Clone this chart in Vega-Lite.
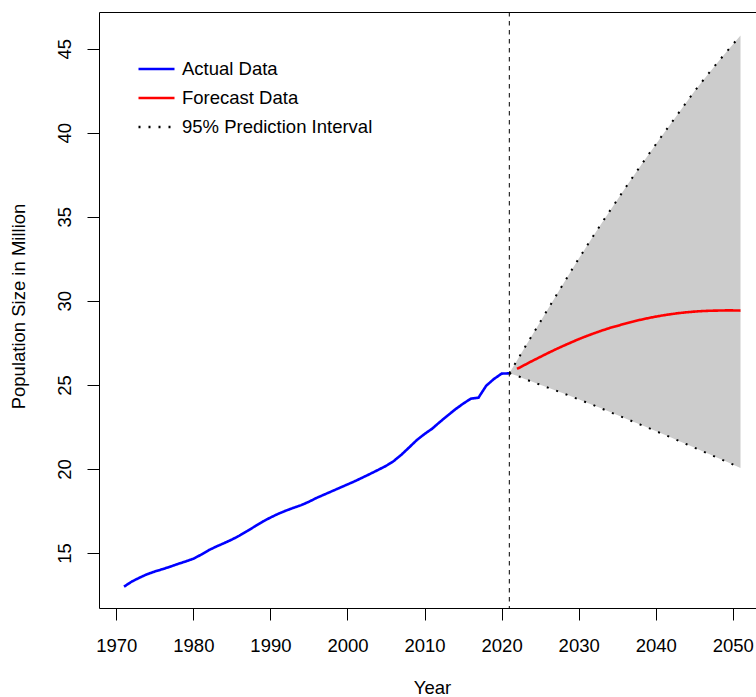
{
  "$schema": "https://vega.github.io/schema/vega-lite/v6.json",
  "width": 660,
  "height": 596,
  "autosize": {"type": "none"},
  "padding": {"left": 99, "top": 12, "right": -3, "bottom": 89},
  "background": "white",
  "config": {
    "font": "Liberation Sans",
    "view": {"stroke": "black", "strokeWidth": 1},
    "axis": {"grid": false, "domain": false, "tickColor": "black", "tickSize": 12, "tickWidth": 1, "labelColor": "black", "titleColor": "black", "labelFont": "Liberation Sans", "titleFont": "Liberation Sans", "labelFontSize": 18.5, "titleFontSize": 18.5, "titleFontWeight": "normal"},
    "legend": {"labelFont": "Liberation Sans", "labelFontSize": 18.5, "labelColor": "black", "labelLimit": 0}
  },
  "datasets": {
    "lines": [
      {"year": 1971, "value": 13.00, "series": "Actual Data", "part": "actual"},
      {"year": 1972, "value": 13.30, "series": "Actual Data", "part": "actual"},
      {"year": 1973, "value": 13.53, "series": "Actual Data", "part": "actual"},
      {"year": 1974, "value": 13.74, "series": "Actual Data", "part": "actual"},
      {"year": 1975, "value": 13.90, "series": "Actual Data", "part": "actual"},
      {"year": 1976, "value": 14.04, "series": "Actual Data", "part": "actual"},
      {"year": 1977, "value": 14.19, "series": "Actual Data", "part": "actual"},
      {"year": 1978, "value": 14.35, "series": "Actual Data", "part": "actual"},
      {"year": 1979, "value": 14.50, "series": "Actual Data", "part": "actual"},
      {"year": 1980, "value": 14.66, "series": "Actual Data", "part": "actual"},
      {"year": 1981, "value": 14.90, "series": "Actual Data", "part": "actual"},
      {"year": 1982, "value": 15.17, "series": "Actual Data", "part": "actual"},
      {"year": 1983, "value": 15.39, "series": "Actual Data", "part": "actual"},
      {"year": 1984, "value": 15.59, "series": "Actual Data", "part": "actual"},
      {"year": 1985, "value": 15.80, "series": "Actual Data", "part": "actual"},
      {"year": 1986, "value": 16.04, "series": "Actual Data", "part": "actual"},
      {"year": 1987, "value": 16.31, "series": "Actual Data", "part": "actual"},
      {"year": 1988, "value": 16.59, "series": "Actual Data", "part": "actual"},
      {"year": 1989, "value": 16.87, "series": "Actual Data", "part": "actual"},
      {"year": 1990, "value": 17.11, "series": "Actual Data", "part": "actual"},
      {"year": 1991, "value": 17.33, "series": "Actual Data", "part": "actual"},
      {"year": 1992, "value": 17.52, "series": "Actual Data", "part": "actual"},
      {"year": 1993, "value": 17.69, "series": "Actual Data", "part": "actual"},
      {"year": 1994, "value": 17.85, "series": "Actual Data", "part": "actual"},
      {"year": 1995, "value": 18.05, "series": "Actual Data", "part": "actual"},
      {"year": 1996, "value": 18.28, "series": "Actual Data", "part": "actual"},
      {"year": 1997, "value": 18.48, "series": "Actual Data", "part": "actual"},
      {"year": 1998, "value": 18.68, "series": "Actual Data", "part": "actual"},
      {"year": 1999, "value": 18.88, "series": "Actual Data", "part": "actual"},
      {"year": 2000, "value": 19.08, "series": "Actual Data", "part": "actual"},
      {"year": 2001, "value": 19.28, "series": "Actual Data", "part": "actual"},
      {"year": 2002, "value": 19.50, "series": "Actual Data", "part": "actual"},
      {"year": 2003, "value": 19.72, "series": "Actual Data", "part": "actual"},
      {"year": 2004, "value": 19.95, "series": "Actual Data", "part": "actual"},
      {"year": 2005, "value": 20.18, "series": "Actual Data", "part": "actual"},
      {"year": 2006, "value": 20.47, "series": "Actual Data", "part": "actual"},
      {"year": 2007, "value": 20.85, "series": "Actual Data", "part": "actual"},
      {"year": 2008, "value": 21.28, "series": "Actual Data", "part": "actual"},
      {"year": 2009, "value": 21.72, "series": "Actual Data", "part": "actual"},
      {"year": 2010, "value": 22.08, "series": "Actual Data", "part": "actual"},
      {"year": 2011, "value": 22.40, "series": "Actual Data", "part": "actual"},
      {"year": 2012, "value": 22.80, "series": "Actual Data", "part": "actual"},
      {"year": 2013, "value": 23.18, "series": "Actual Data", "part": "actual"},
      {"year": 2014, "value": 23.55, "series": "Actual Data", "part": "actual"},
      {"year": 2015, "value": 23.88, "series": "Actual Data", "part": "actual"},
      {"year": 2016, "value": 24.18, "series": "Actual Data", "part": "actual"},
      {"year": 2017, "value": 24.24, "series": "Actual Data", "part": "actual"},
      {"year": 2018, "value": 24.95, "series": "Actual Data", "part": "actual"},
      {"year": 2019, "value": 25.35, "series": "Actual Data", "part": "actual"},
      {"year": 2020, "value": 25.67, "series": "Actual Data", "part": "actual"},
      {"year": 2021, "value": 25.69, "series": "Actual Data", "part": "actual"},
      {"year": 2022, "value": 25.95, "series": "Forecast Data", "part": "mean"},
      {"year": 2023, "value": 26.19, "series": "Forecast Data", "part": "mean"},
      {"year": 2024, "value": 26.43, "series": "Forecast Data", "part": "mean"},
      {"year": 2025, "value": 26.66, "series": "Forecast Data", "part": "mean"},
      {"year": 2026, "value": 26.89, "series": "Forecast Data", "part": "mean"},
      {"year": 2027, "value": 27.11, "series": "Forecast Data", "part": "mean"},
      {"year": 2028, "value": 27.32, "series": "Forecast Data", "part": "mean"},
      {"year": 2029, "value": 27.52, "series": "Forecast Data", "part": "mean"},
      {"year": 2030, "value": 27.72, "series": "Forecast Data", "part": "mean"},
      {"year": 2031, "value": 27.90, "series": "Forecast Data", "part": "mean"},
      {"year": 2032, "value": 28.07, "series": "Forecast Data", "part": "mean"},
      {"year": 2033, "value": 28.23, "series": "Forecast Data", "part": "mean"},
      {"year": 2034, "value": 28.38, "series": "Forecast Data", "part": "mean"},
      {"year": 2035, "value": 28.51, "series": "Forecast Data", "part": "mean"},
      {"year": 2036, "value": 28.64, "series": "Forecast Data", "part": "mean"},
      {"year": 2037, "value": 28.76, "series": "Forecast Data", "part": "mean"},
      {"year": 2038, "value": 28.87, "series": "Forecast Data", "part": "mean"},
      {"year": 2039, "value": 28.97, "series": "Forecast Data", "part": "mean"},
      {"year": 2040, "value": 29.06, "series": "Forecast Data", "part": "mean"},
      {"year": 2041, "value": 29.14, "series": "Forecast Data", "part": "mean"},
      {"year": 2042, "value": 29.21, "series": "Forecast Data", "part": "mean"},
      {"year": 2043, "value": 29.27, "series": "Forecast Data", "part": "mean"},
      {"year": 2044, "value": 29.32, "series": "Forecast Data", "part": "mean"},
      {"year": 2045, "value": 29.36, "series": "Forecast Data", "part": "mean"},
      {"year": 2046, "value": 29.39, "series": "Forecast Data", "part": "mean"},
      {"year": 2047, "value": 29.41, "series": "Forecast Data", "part": "mean"},
      {"year": 2048, "value": 29.42, "series": "Forecast Data", "part": "mean"},
      {"year": 2049, "value": 29.43, "series": "Forecast Data", "part": "mean"},
      {"year": 2050, "value": 29.43, "series": "Forecast Data", "part": "mean"},
      {"year": 2051, "value": 29.42, "series": "Forecast Data", "part": "mean"}
    ],
    "band": [
      {"year": 2021, "lower": 25.69, "upper": 25.69},
      {"year": 2022, "lower": 25.55, "upper": 26.45},
      {"year": 2023, "lower": 25.35, "upper": 27.22},
      {"year": 2024, "lower": 25.18, "upper": 27.98},
      {"year": 2025, "lower": 25.01, "upper": 28.74},
      {"year": 2026, "lower": 24.84, "upper": 29.50},
      {"year": 2027, "lower": 24.67, "upper": 30.26},
      {"year": 2028, "lower": 24.50, "upper": 31.01},
      {"year": 2029, "lower": 24.32, "upper": 31.76},
      {"year": 2030, "lower": 24.14, "upper": 32.50},
      {"year": 2031, "lower": 23.96, "upper": 33.22},
      {"year": 2032, "lower": 23.78, "upper": 33.93},
      {"year": 2033, "lower": 23.59, "upper": 34.63},
      {"year": 2034, "lower": 23.40, "upper": 35.32},
      {"year": 2035, "lower": 23.21, "upper": 36.00},
      {"year": 2036, "lower": 23.02, "upper": 36.68},
      {"year": 2037, "lower": 22.83, "upper": 37.35},
      {"year": 2038, "lower": 22.64, "upper": 38.01},
      {"year": 2039, "lower": 22.45, "upper": 38.66},
      {"year": 2040, "lower": 22.26, "upper": 39.30},
      {"year": 2041, "lower": 22.06, "upper": 39.94},
      {"year": 2042, "lower": 21.87, "upper": 40.57},
      {"year": 2043, "lower": 21.67, "upper": 41.19},
      {"year": 2044, "lower": 21.47, "upper": 41.82},
      {"year": 2045, "lower": 21.27, "upper": 42.45},
      {"year": 2046, "lower": 21.07, "upper": 43.03},
      {"year": 2047, "lower": 20.87, "upper": 43.60},
      {"year": 2048, "lower": 20.67, "upper": 44.16},
      {"year": 2049, "lower": 20.47, "upper": 44.71},
      {"year": 2050, "lower": 20.27, "upper": 45.25},
      {"year": 2051, "lower": 20.06, "upper": 45.78}
    ],
    "origin": [
      {"year": 2021}
    ]
  },
  "layer": [
    {
      "data": {"name": "band"},
      "mark": {"type": "area", "color": "#CCCCCC", "opacity": 1},
      "encoding": {
        "x": {"field": "year", "type": "quantitative", "scale": {"domain": [1967.755, 2053.4], "nice": false, "zero": false},
          "axis": {"values": [1970, 1980, 1990, 2000, 2010, 2020, 2030, 2040, 2050], "format": "d", "title": "Year", "labelPadding": 25, "labelBaseline": "middle", "labelFlush": false, "labelOverlap": false, "titleX": 333, "titleY": 79, "titleBaseline": "middle", "titleAnchor": null}},
        "y": {"field": "lower", "type": "quantitative", "scale": {"domain": [11.73, 47.18], "nice": false, "zero": false},
          "axis": {"values": [15, 20, 25, 30, 35, 40, 45], "title": "Population Size in Million", "labelAngle": 270, "labelAlign": "center", "labelBaseline": "middle", "labelPadding": 22.5, "labelFlush": false, "labelOverlap": false, "titleX": -81, "titleY": 294, "titleBaseline": "middle", "titleAngle": 270}},
        "y2": {"field": "upper"}
      }
    },
    {
      "data": {"name": "band"},
      "transform": [
        {"fold": ["lower", "upper"], "as": ["part", "value"]},
        {"calculate": "'95% Prediction Interval'", "as": "series"}
      ],
      "mark": {"type": "line", "strokeWidth": 2, "strokeCap": "butt"},
      "encoding": {
        "x": {"field": "year", "type": "quantitative"},
        "y": {"field": "value", "type": "quantitative"},
        "detail": {"field": "part"},
        "color": {"field": "series", "type": "nominal"},
        "strokeDash": {"field": "series", "type": "nominal"}
      }
    },
    {
      "data": {"name": "lines"},
      "mark": {"type": "line", "strokeWidth": 2.6},
      "encoding": {
        "x": {"field": "year", "type": "quantitative"},
        "y": {"field": "value", "type": "quantitative"},
        "detail": {"field": "part"},
        "color": {"field": "series", "type": "nominal",
          "scale": {"domain": ["Actual Data", "Forecast Data", "95% Prediction Interval"], "range": ["#0000FF", "#FF0000", "#000000"]},
          "legend": {"title": null, "orient": "none", "legendX": 38, "legendY": 37.5, "symbolType": "stroke", "symbolSize": 1296, "symbolStrokeWidth": 2.5, "labelOffset": 6, "padding": 0, "rowPadding": -3, "labelFontSize": 18.5, "labelLimit": 0}},
        "strokeDash": {"field": "series", "type": "nominal",
          "scale": {"domain": ["Actual Data", "Forecast Data", "95% Prediction Interval"], "range": [[1, 0], [1, 0], [2, 8]]},
          "legend": {"title": null, "orient": "none", "legendX": 38, "legendY": 37.5, "symbolType": "stroke", "symbolSize": 1296, "symbolStrokeWidth": 2.5, "labelOffset": 6, "padding": 0, "rowPadding": -3, "labelFontSize": 18.5, "labelLimit": 0}}
      }
    },
    {
      "data": {"name": "origin"},
      "mark": {"type": "rule", "color": "black", "strokeWidth": 1, "strokeDash": [4.5, 4.5]},
      "encoding": {"x": {"field": "year", "type": "quantitative"}}
    }
  ]
}
